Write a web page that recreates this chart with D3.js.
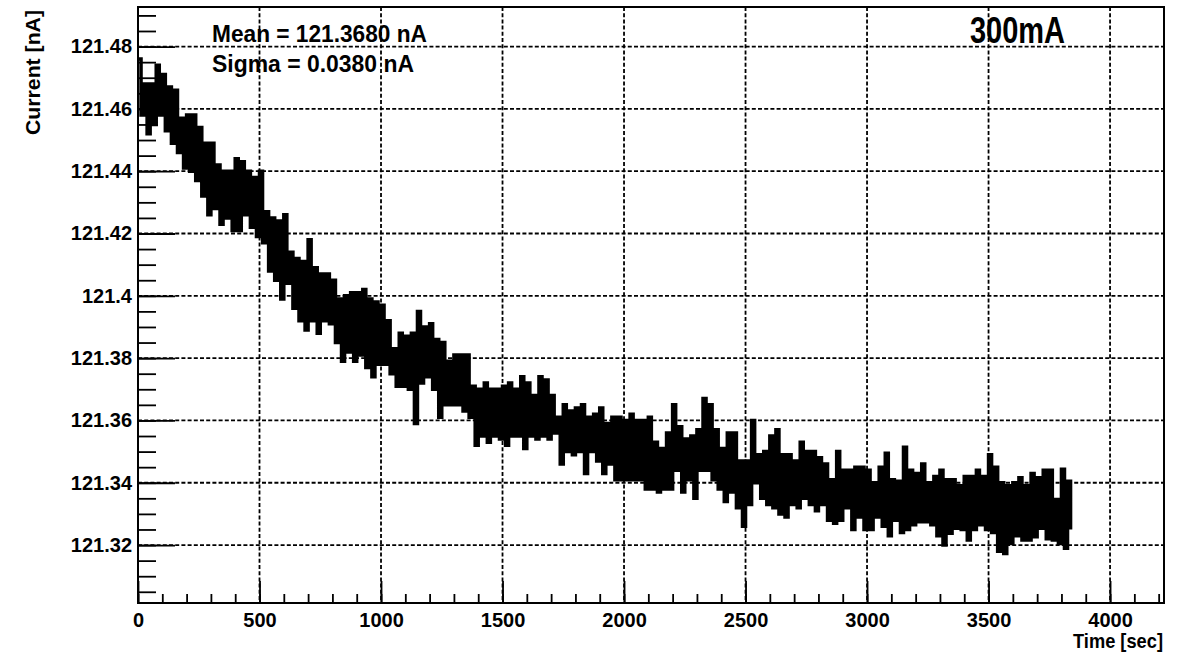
<!DOCTYPE html>
<html>
<head>
<meta charset="utf-8">
<script src="https://cdn.jsdelivr.net/npm/d3@7"></script>
<style>
  html, body { margin: 0; padding: 0; background: #fff; }
  svg { display: block; }
  text { font-family: "Liberation Sans", Arial, Helvetica, sans-serif; font-weight: bold; fill: #000; }
</style>
</head>
<body>
<svg id="chart" width="1186" height="655"></svg>
<script>
// ── data ──────────────────────────────────────────────
// current readout, upper / lower edge of the trace in each 25 s bin (nA)
const BIN_SEC = 25;
const binStart = d3.range(0, 3850, BIN_SEC);

const currentHi = [
  121.476, 121.468, 121.468, 121.474, 121.471, 121.467, 121.466, 121.457, 121.458, 121.458,
  121.454, 121.449, 121.449, 121.442, 121.440, 121.440, 121.444, 121.443, 121.440, 121.438,
  121.440, 121.427, 121.425, 121.424, 121.426, 121.414, 121.412, 121.411, 121.418, 121.409,
  121.407, 121.407, 121.405, 121.399, 121.400, 121.401, 121.401, 121.402, 121.399, 121.398,
  121.397, 121.392, 121.383, 121.388, 121.387, 121.388, 121.395, 121.390, 121.391, 121.386,
  121.385, 121.379, 121.381, 121.381, 121.381, 121.371, 121.370, 121.372, 121.370, 121.370,
  121.371, 121.372, 121.370, 121.374, 121.372, 121.368, 121.374, 121.373, 121.368, 121.361,
  121.365, 121.363, 121.364, 121.365, 121.361, 121.362, 121.364, 121.359, 121.361, 121.361,
  121.360, 121.362, 121.360, 121.360, 121.361, 121.353, 121.351, 121.356, 121.365, 121.358,
  121.354, 121.355, 121.357, 121.367, 121.365, 121.357, 121.351, 121.356, 121.356, 121.347,
  121.347, 121.360, 121.349, 121.350, 121.355, 121.357, 121.349, 121.349, 121.347, 121.353,
  121.350, 121.350, 121.348, 121.346, 121.341, 121.350, 121.344, 121.344, 121.345, 121.345,
  121.344, 121.340, 121.345, 121.3495, 121.341, 121.3405, 121.3514, 121.344, 121.343, 121.346,
  121.340, 121.342, 121.344, 121.341, 121.341, 121.339, 121.342, 121.342, 121.344, 121.342,
  121.349, 121.345, 121.340, 121.339, 121.340, 121.3416, 121.339, 121.343, 121.3416, 121.344,
  121.344, 121.3346, 121.3443, 121.3405
];

const currentLo = [
  121.458, 121.452, 121.455, 121.458, 121.453, 121.449, 121.446, 121.441, 121.440, 121.437,
  121.432, 121.426, 121.428, 121.423, 121.425, 121.421, 121.421, 121.426, 121.422, 121.419,
  121.417, 121.408, 121.405, 121.399, 121.404, 121.396, 121.392, 121.389, 121.392, 121.388,
  121.392, 121.391, 121.385, 121.379, 121.382, 121.379, 121.381, 121.377, 121.374, 121.378,
  121.378, 121.375, 121.371, 121.371, 121.370, 121.359, 121.372, 121.374, 121.370, 121.361,
  121.365, 121.365, 121.365, 121.363, 121.361, 121.352, 121.355, 121.353, 121.355, 121.354,
  121.352, 121.355, 121.355, 121.351, 121.355, 121.354, 121.355, 121.354, 121.356, 121.346,
  121.350, 121.349, 121.350, 121.343, 121.350, 121.347, 121.343, 121.346, 121.341, 121.341,
  121.341, 121.341, 121.341, 121.338, 121.338, 121.337, 121.338, 121.338, 121.344, 121.337,
  121.341, 121.335, 121.344, 121.344, 121.341, 121.338, 121.334, 121.337, 121.332, 121.326,
  121.333, 121.340, 121.335, 121.333, 121.332, 121.330, 121.329, 121.333, 121.332, 121.335,
  121.333, 121.331, 121.333, 121.328, 121.327, 121.328, 121.332, 121.325, 121.329, 121.325,
  121.325, 121.329, 121.326, 121.323, 121.328, 121.324, 121.325, 121.3265, 121.3275, 121.3275,
  121.3265, 121.323, 121.320, 121.3238, 121.3254, 121.325, 121.3216, 121.325, 121.3265, 121.325,
  121.324, 121.318, 121.3173, 121.3205, 121.323, 121.3216, 121.3216, 121.3227, 121.3254, 121.322,
  121.3216, 121.3205, 121.319, 121.325
];

const xMajorTicks = [0, 500, 1000, 1500, 2000, 2500, 3000, 3500, 4000];
const yMajorTicks = [121.32, 121.34, 121.36, 121.38, 121.40, 121.42, 121.44, 121.46, 121.48];
const statLines = ['Mean = 121.3680 nA', 'Sigma = 0.0380 nA'];
const runLabel = '300mA';
const xTitle = 'Time [sec]';
const yTitle = 'Current [nA]';

// ── layout ────────────────────────────────────────────
const M = { left: 138, top: 7, right: 1164, bottom: 603 };
const X_MAX = 4222;
const Y_MIN = 121.3014, Y_MAX = 121.4927;

const svg = d3.select('#chart');

const x = d3.scaleLinear().domain([0, X_MAX]).range([M.left, M.right]);
const y = d3.scaleLinear().domain([Y_MIN, Y_MAX]).range([M.bottom, M.top]);

// ── text (grid is drawn over it, like the original) ──
svg.append('text')
  .attr('x', 212).attr('y', 41.5)
  .attr('font-size', 24)
  .attr('textLength', 215).attr('lengthAdjust', 'spacingAndGlyphs')
  .text(statLines[0]);

svg.append('text')
  .attr('x', 212).attr('y', 71.5)
  .attr('font-size', 24)
  .attr('textLength', 202).attr('lengthAdjust', 'spacingAndGlyphs')
  .text(statLines[1]);

svg.append('text')
  .attr('x', 970).attr('y', 43)
  .attr('font-size', 37)
  .attr('textLength', 95).attr('lengthAdjust', 'spacingAndGlyphs')
  .text(runLabel);

svg.append('text')
  .attr('x', 1163).attr('y', 648)
  .attr('text-anchor', 'end')
  .attr('font-size', 21)
  .attr('textLength', 90).attr('lengthAdjust', 'spacingAndGlyphs')
  .text(xTitle);

svg.append('text')
  .attr('transform', 'translate(40,10) rotate(-90)')
  .attr('text-anchor', 'end')
  .attr('font-size', 21)
  .attr('textLength', 125).attr('lengthAdjust', 'spacingAndGlyphs')
  .text(yTitle);

// ── grid ──────────────────────────────────────────────
const grid = svg.append('g')
  .attr('stroke', '#000')
  .attr('stroke-width', 1.8)
  .attr('stroke-dasharray', '4,2.2');

grid.selectAll('line.gx')
  .data(xMajorTicks.filter(d => d > 0))
  .join('line')
  .attr('class', 'gx')
  .attr('x1', d => x(d)).attr('x2', d => x(d))
  .attr('y1', M.top).attr('y2', M.bottom);

grid.selectAll('line.gy')
  .data(yMajorTicks)
  .join('line')
  .attr('class', 'gy')
  .attr('x1', M.left).attr('x2', M.right)
  .attr('y1', d => y(d)).attr('y2', d => y(d));

// ── trace ─────────────────────────────────────────────
const points = binStart.flatMap((t, i) => [
  [t, currentHi[i]],
  [t + BIN_SEC / 2, currentLo[i]],
]);

const line = d3.line()
  .x(d => x(d[0]))
  .y(d => y(d[1]))
  .curve(d3.curveStepAfter);

svg.append('path')
  .datum(points)
  .attr('d', line)
  .attr('fill', 'none')
  .attr('stroke', '#000')
  .attr('stroke-width', 3.5);

// ── axes (ticks point inward, ROOT style) ─────────────
function styleAxis(g, width) {
  g.select('.domain').remove();
  g.attr('font-size', 20);
  g.selectAll('.tick line').attr('stroke', '#000').attr('stroke-width', width);
}

svg.append('g')
  .attr('transform', `translate(0,${M.bottom})`)
  .call(d3.axisBottom(x).tickValues(d3.range(0, X_MAX, 100)).tickSize(-9).tickFormat(''))
  .call(g => styleAxis(g, 1.8));

svg.append('g')
  .attr('transform', `translate(0,${M.bottom})`)
  .call(d3.axisBottom(x).tickValues(xMajorTicks).tickSize(-22).tickPadding(10).tickFormat(d3.format('d')))
  .call(g => styleAxis(g, 1.8));

const yMinor = d3.range(0, 38).map(i => 121.305 + i * 0.005).filter(v => v < Y_MAX);

svg.append('g')
  .attr('transform', `translate(${M.left},0)`)
  .call(d3.axisLeft(y).tickValues(yMinor).tickSize(-18).tickFormat(''))
  .call(g => styleAxis(g, 1.8));

svg.append('g')
  .attr('transform', `translate(${M.left},0)`)
  .call(d3.axisLeft(y).tickValues(yMajorTicks).tickSize(-37).tickPadding(6)
    .tickFormat(d => String(+d.toFixed(2))))
  .call(g => styleAxis(g, 1.8));

// ── frame ─────────────────────────────────────────────
svg.append('rect')
  .attr('x', M.left).attr('y', M.top)
  .attr('width', M.right - M.left).attr('height', M.bottom - M.top)
  .attr('fill', 'none')
  .attr('stroke', '#000')
  .attr('stroke-width', 2);
</script>
</body>
</html>
